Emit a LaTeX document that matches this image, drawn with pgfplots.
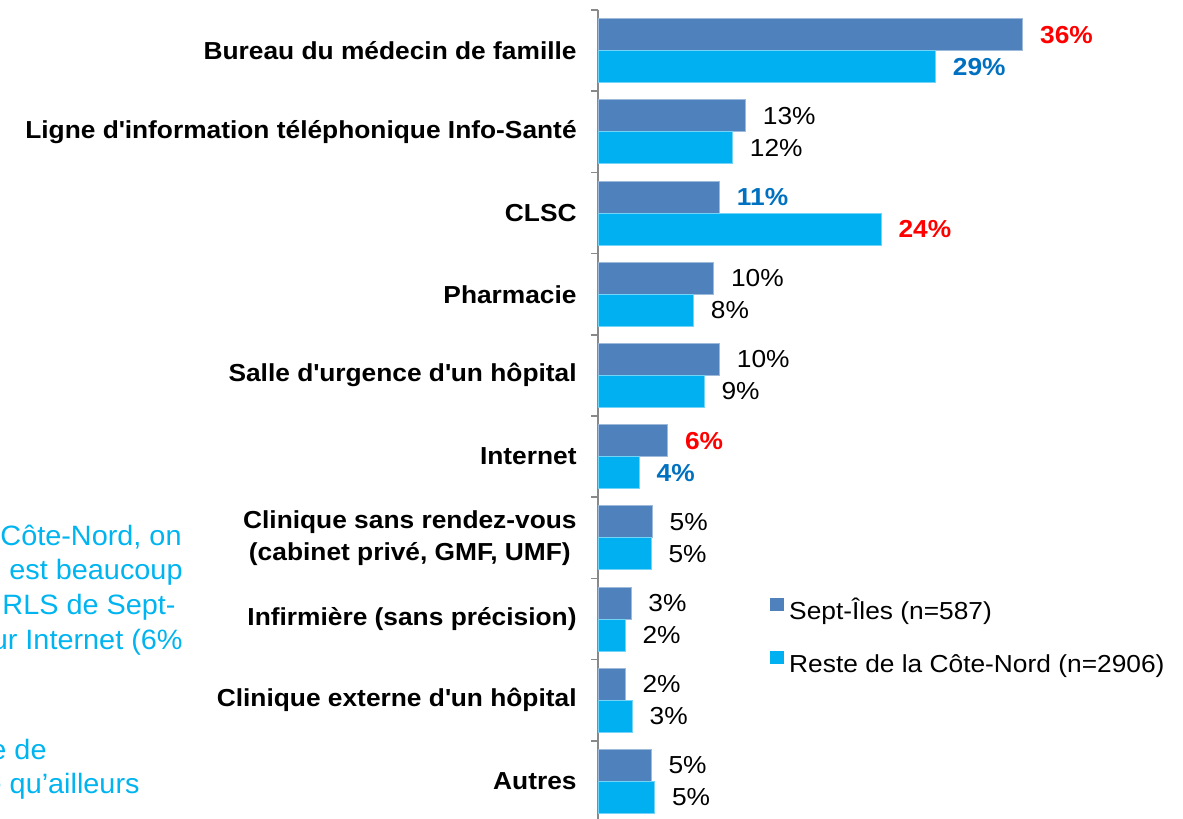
\documentclass[border=0pt]{standalone}
\usepackage{fontspec}
\setmainfont{Liberation Sans}[FakeStretch=1.07]
\newfontfamily\notefont{Liberation Sans}[FakeStretch=1.03]
\usepackage{pgfplots}
\pgfplotsset{compat=1.18}

\definecolor{sept}{HTML}{4F81BD}
\definecolor{reste}{HTML}{00B0F0}
\definecolor{hired}{HTML}{FF0000}
\definecolor{hiblue}{HTML}{0070C0}
\definecolor{axgray}{HTML}{898989}
\definecolor{note}{HTML}{00B4F0}

\begin{document}
\begin{tikzpicture}
\useasboundingbox (0,0) rectangle (591.5pt,-409.5pt);

% commentary text, cut off by the left edge
\begin{scope}[x=0.5pt,y=-0.5pt,every node/.style={inner sep=0pt,text=note,font=\notefont\fontsize{14}{16}\selectfont}]
\node[anchor=base east] at (182,545) {Côte-Nord, on};
\node[anchor=base east] at (183,579) {est beaucoup};
\node[anchor=base east] at (176,614) {RLS de Sept-};
\node[anchor=base east] at (183,649) {ur Internet (6\%};
\node[anchor=base east] at (47,759) {e de};
\node[anchor=base east] at (140,793) {e qu’ailleurs};
\end{scope}

\begin{axis}[
at={(299pt,-5pt)}, anchor=north west,
scale only axis, width=236pt, height=406pt,
xbar, bar width=16pt,
xmin=0, xmax=40, ymin=-0.5, ymax=9.5,
axis x line=none,
axis y line=left,
y axis line style={-, draw=axgray, line width=0.8pt},
ytick={0,...,9},
yticklabels={Autres,Clinique externe d\textquotesingle un hôpital,Infirmière (sans précision),{Clinique sans rendez-vous\\(cabinet privé, GMF, UMF)},Internet,Salle d\textquotesingle urgence d\textquotesingle un hôpital,Pharmacie,CLSC,Ligne d\textquotesingle information téléphonique Info-Santé,Bureau du médecin de famille},
major tick length=0pt,
minor ytick={-0.5,0.5,...,9.5},
minor tick length=3.5pt,
tick align=outside,
minor tick style={draw=axgray, line width=0.8pt},
yticklabel style={font=\bfseries\fontsize{12.3}{16}\selectfont, align=center, inner sep=0pt, xshift=-10.5pt},
clip=false,
point meta=explicit symbolic,
nodes near coords={\pgfplotspointmeta\%},
every node near coord/.append style={anchor=west, inner sep=0pt, xshift=8.5pt, font=\fontsize{12.3}{14}\selectfont, text=black},
legend image code/.code={\path[#1, draw=none] (0pt,1pt) rectangle (7pt,7.5pt);},
legend style={at={(0.364,0.276)}, anchor=north west, draw=none, fill=none, inner sep=0pt,
  row sep=13pt, column sep=2.5pt,
  nodes={inner sep=0pt, text height=9pt, text depth=3pt, font=\fontsize{12.3}{14}\selectfont}},
legend cell align=left,
]
% Sept-Iles, regular labels
\addplot[fill=sept, draw=sept!55!white, line width=0.4pt, bar shift=8pt] coordinates {
(12.5,8) [13] (9.8,6) [10] (10.3,5) [10] (4.6,3) [5] (2.8,2) [3] (2.3,1) [2] (4.5,0) [5]
};
\addlegendentry{Sept-Îles (n=587)}
% Reste de la Cote-Nord, regular labels
\addplot[fill=reste, draw=reste!55!white, line width=0.4pt, bar shift=-8pt] coordinates {
(11.4,8) [12] (8.1,6) [8] (9.0,5) [9] (4.5,3) [5] (2.3,2) [2] (2.9,1) [3] (4.8,0) [5]
};
\addlegendentry{Reste de la Côte-Nord (n=2906)}
% highlighted values
\addplot[forget plot, fill=sept, draw=sept!55!white, line width=0.4pt, bar shift=8pt,
  every node near coord/.append style={font=\bfseries\fontsize{12.3}{14}\selectfont, text=hired}] coordinates {
(36.0,9) [36] (5.9,4) [6]
};
\addplot[forget plot, fill=sept, draw=sept!55!white, line width=0.4pt, bar shift=8pt,
  every node near coord/.append style={font=\bfseries\fontsize{12.3}{14}\selectfont, text=hiblue}] coordinates {
(10.3,7) [11]
};
\addplot[forget plot, fill=reste, draw=reste!55!white, line width=0.4pt, bar shift=-8pt,
  every node near coord/.append style={font=\bfseries\fontsize{12.3}{14}\selectfont, text=hired}] coordinates {
(24.0,7) [24]
};
\addplot[forget plot, fill=reste, draw=reste!55!white, line width=0.4pt, bar shift=-8pt,
  every node near coord/.append style={font=\bfseries\fontsize{12.3}{14}\selectfont, text=hiblue}] coordinates {
(28.6,9) [29] (3.5,4) [4]
};
\end{axis}
\end{tikzpicture}
\end{document}
